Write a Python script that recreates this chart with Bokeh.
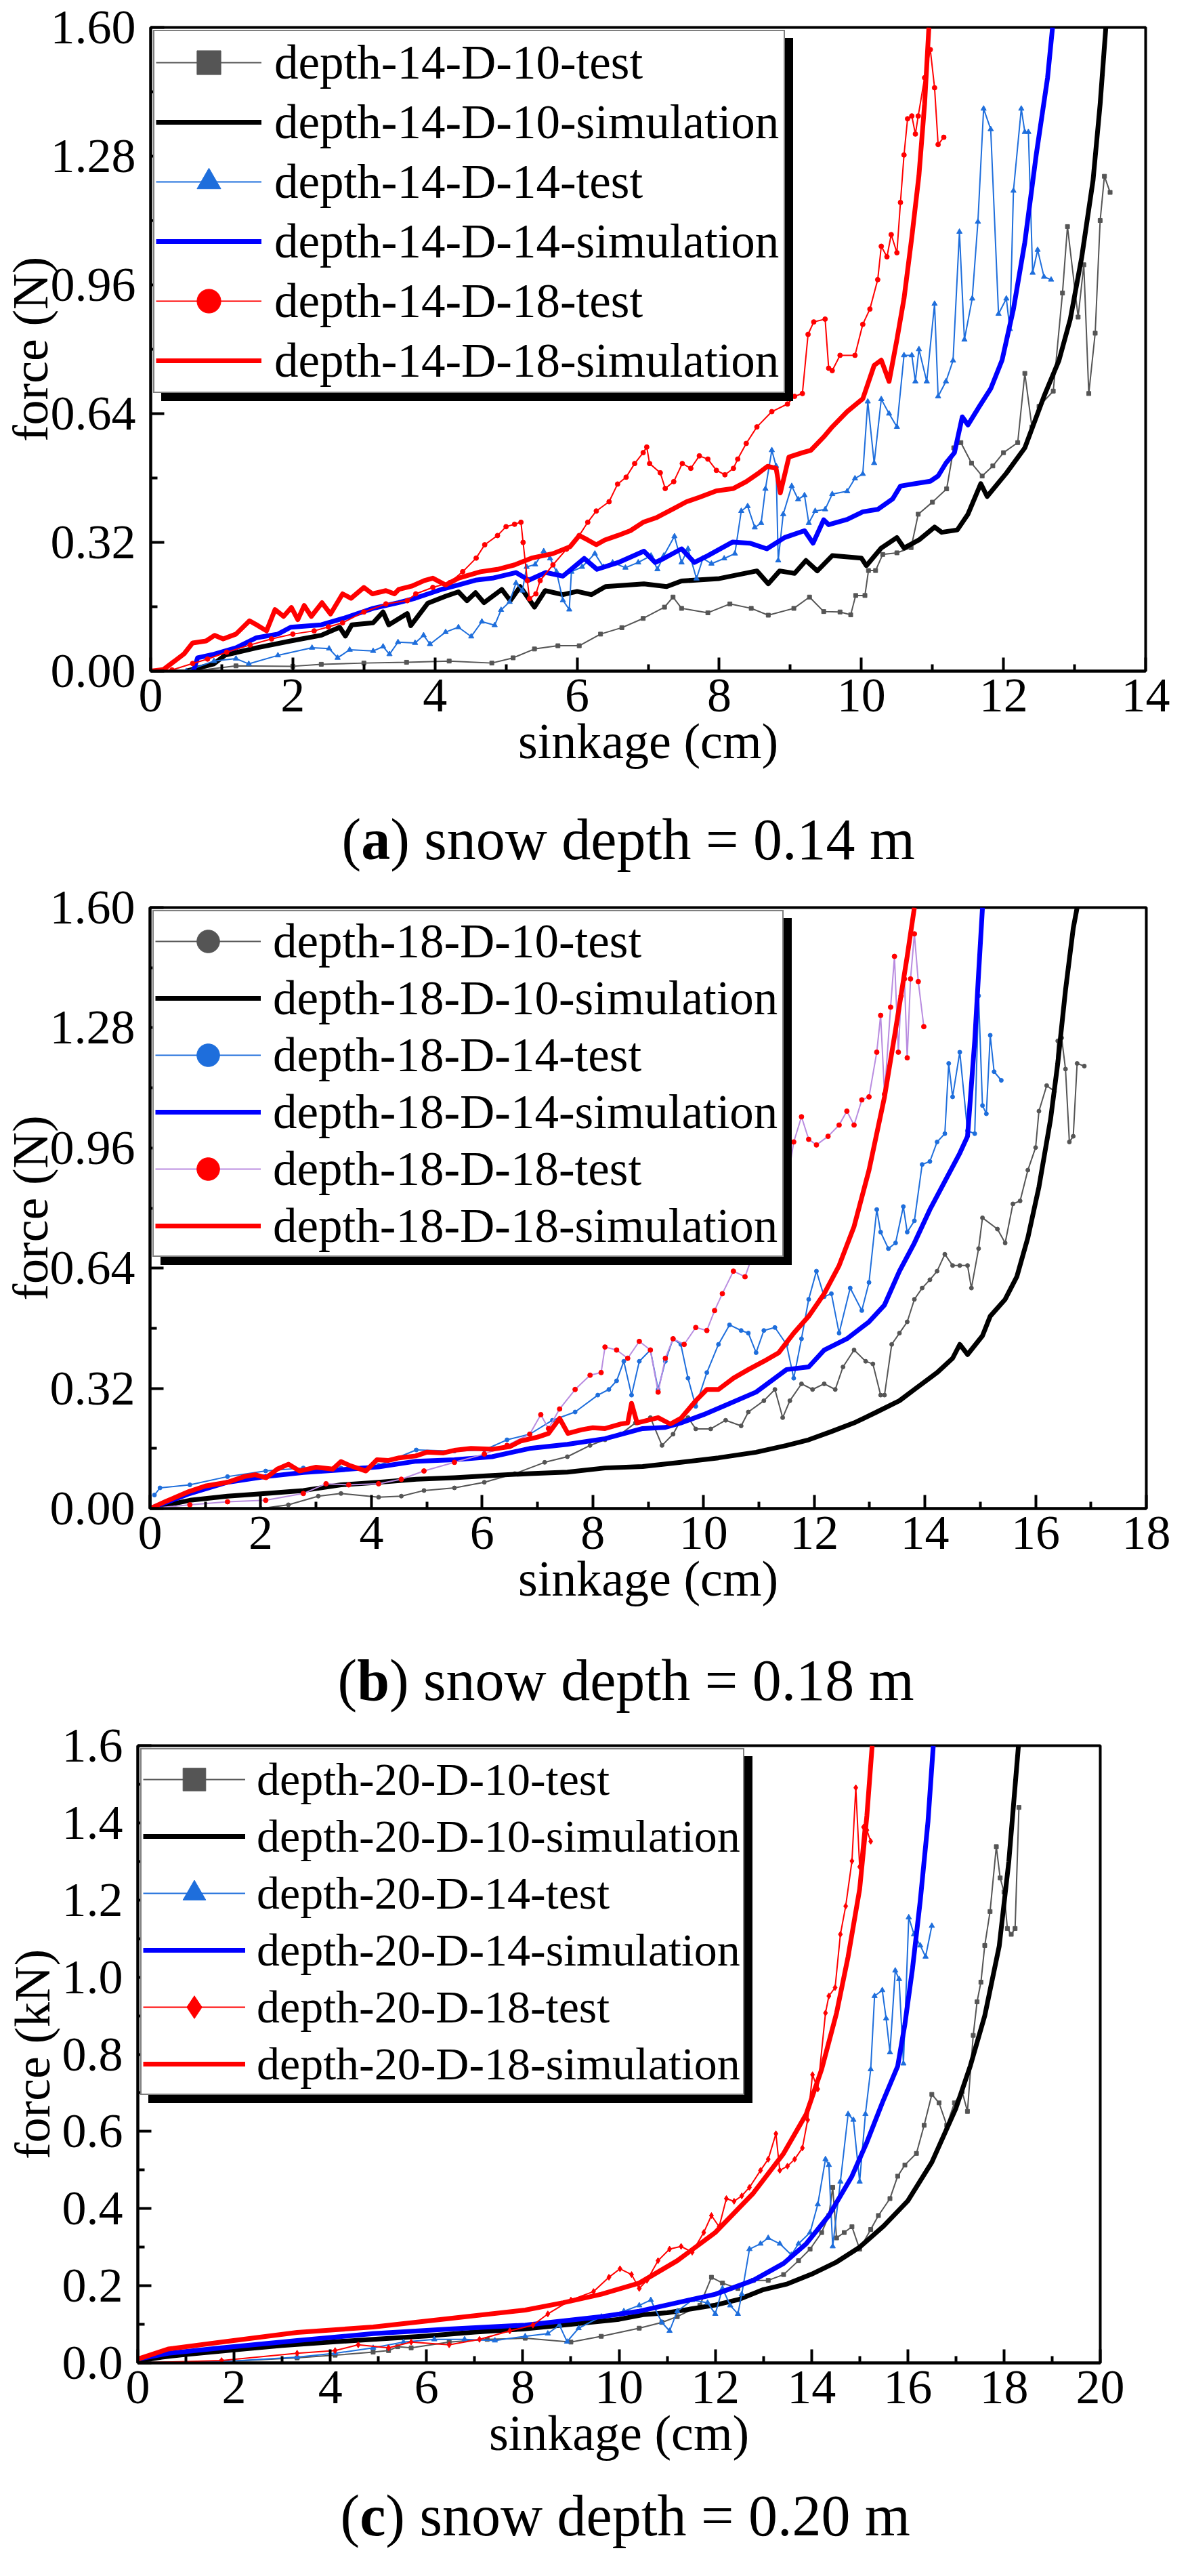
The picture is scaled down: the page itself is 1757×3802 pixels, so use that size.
from bokeh.plotting import figure
from bokeh.models import Range1d, Legend, LegendItem, FixedTicker, PrintfTickFormatter
from bokeh.embed import file_html
from bokeh.resources import INLINE
from bokeh.core.properties import value

FONT = "Liberation Serif"
PAGE_W = 1741

# ---------------- data: (sinkage cm, force) ----------------
# panel (a) snow depth 0.14 m
a_d10_test = [(0.3,0.0),(0.6,0.0),(1.2,0.013),(2.0,0.012),(2.4,0.017),(3.0,0.02),(3.6,0.022),(4.2,0.025),(4.8,0.02),(5.1,0.033),(5.4,0.055),(5.73,0.063),(6.03,0.063),(6.33,0.092),(6.63,0.108),(6.93,0.131),(7.23,0.159),(7.35,0.184),(7.47,0.156),(7.84,0.145),(8.15,0.167),(8.45,0.156),(8.69,0.139),(9.05,0.156),(9.27,0.184),(9.47,0.148),(9.7,0.147),(9.85,0.14),(9.92,0.188),(10.05,0.188),(10.1,0.25),(10.2,0.25),(10.3,0.29),(10.5,0.294),(10.7,0.307),(10.8,0.39),(11.0,0.42),(11.2,0.453),(11.3,0.555),(11.4,0.568),(11.55,0.517),(11.7,0.485),(11.85,0.51),(12.0,0.543),(12.2,0.568),(12.3,0.74),(12.4,0.607),(12.5,0.658),(12.7,0.696),(12.83,0.94),(12.9,1.105),(13.05,0.88),(13.13,1.01),(13.2,0.69),(13.29,0.84),(13.36,1.12),(13.42,1.23),(13.5,1.19)]
a_d10_sim = [(0.5,0.0),(0.89,0.018),(1.05,0.04),(1.49,0.058),(1.97,0.075),(2.4,0.089),(2.66,0.109),(2.74,0.087),(2.83,0.115),(3.13,0.12),(3.27,0.147),(3.35,0.115),(3.61,0.143),(3.66,0.113),(3.9,0.169),(4.15,0.186),(4.33,0.197),(4.45,0.175),(4.57,0.195),(4.69,0.17),(4.94,0.203),(5.06,0.175),(5.2,0.21),(5.4,0.159),(5.55,0.2),(5.8,0.19),(6.0,0.198),(6.2,0.19),(6.4,0.21),(6.94,0.217),(7.26,0.21),(7.47,0.224),(8.0,0.23),(8.53,0.249),(8.69,0.217),(8.85,0.249),(9.06,0.243),(9.22,0.275),(9.38,0.249),(9.59,0.287),(10.0,0.281),(10.07,0.262),(10.28,0.306),(10.5,0.332),(10.6,0.306),(10.81,0.326),(11.03,0.358),(11.13,0.345),(11.35,0.351),(11.5,0.39),(11.68,0.466),(11.77,0.434),(12.04,0.492),(12.3,0.555),(12.57,0.683),(12.78,0.772),(12.94,0.875),(13.1,1.028),(13.26,1.22),(13.36,1.41),(13.44,1.6)]
a_d14_test = [(0.5,0.0),(0.89,0.025),(1.2,0.031),(1.38,0.018),(1.79,0.039),(2.27,0.058),(2.51,0.056),(2.63,0.033),(2.8,0.053),(3.13,0.05),(3.27,0.061),(3.36,0.042),(3.48,0.072),(3.72,0.07),(3.84,0.089),(3.93,0.067),(4.15,0.097),(4.33,0.109),(4.51,0.086),(4.66,0.123),(4.84,0.114),(4.93,0.152),(5.05,0.172),(5.14,0.219),(5.23,0.2),(5.29,0.259),(5.41,0.265),(5.53,0.298),(5.62,0.28),(5.71,0.247),(5.8,0.176),(5.89,0.153),(5.92,0.247),(6.07,0.259),(6.25,0.292),(6.37,0.259),(6.5,0.27),(6.68,0.257),(6.86,0.27),(7.04,0.287),(7.13,0.253),(7.22,0.287),(7.37,0.335),(7.47,0.27),(7.56,0.304),(7.68,0.23),(7.77,0.28),(7.89,0.267),(8.07,0.28),(8.22,0.292),(8.31,0.398),(8.4,0.41),(8.5,0.357),(8.59,0.368),(8.65,0.453),(8.74,0.549),(8.8,0.51),(8.83,0.275),(8.9,0.39),(9.02,0.46),(9.11,0.427),(9.2,0.437),(9.26,0.368),(9.35,0.398),(9.49,0.402),(9.59,0.44),(9.8,0.447),(9.91,0.479),(10.02,0.49),(10.09,0.67),(10.18,0.517),(10.28,0.676),(10.39,0.64),(10.5,0.607),(10.6,0.785),(10.71,0.785),(10.76,0.72),(10.81,0.8),(10.92,0.72),(11.03,0.913),(11.08,0.683),(11.19,0.72),(11.29,0.772),(11.38,1.092),(11.45,0.824),(11.56,0.926),(11.64,1.117),(11.72,1.398),(11.82,1.347),(11.93,0.888),(12.04,0.926),(12.09,0.85),(12.14,1.194),(12.25,1.398),(12.3,1.34),(12.35,1.34),(12.41,0.99),(12.48,1.047),(12.57,0.98),(12.67,0.973)]
a_d14_sim = [(0.6,0.0),(0.66,0.033),(0.89,0.042),(1.2,0.058),(1.49,0.083),(1.79,0.092),(1.97,0.109),(2.4,0.115),(2.71,0.131),(3.13,0.156),(3.48,0.17),(3.72,0.181),(4.09,0.203),(4.33,0.214),(4.57,0.226),(4.81,0.231),(5.14,0.245),(5.32,0.226),(5.56,0.245),(5.8,0.236),(6.1,0.28),(6.28,0.253),(6.58,0.27),(6.94,0.298),(7.1,0.27),(7.22,0.28),(7.47,0.304),(7.65,0.27),(7.84,0.287),(8.19,0.321),(8.43,0.318),(8.67,0.304),(8.92,0.332),(9.2,0.349),(9.32,0.318),(9.47,0.376),(9.54,0.364),(9.8,0.377),(10.02,0.396),(10.23,0.402),(10.44,0.428),(10.55,0.46),(10.76,0.466),(10.97,0.472),(11.08,0.485),(11.19,0.517),(11.31,0.543),(11.42,0.632),(11.5,0.612),(11.66,0.658),(11.82,0.702),(11.98,0.773),(12.14,0.9),(12.3,1.066),(12.46,1.283),(12.62,1.475),(12.69,1.6)]
a_d18_test = [(0.1,0.0),(0.3,0.003),(0.59,0.019),(0.8,0.03),(1.07,0.047),(1.4,0.065),(1.7,0.08),(2.0,0.092),(2.3,0.1),(2.5,0.11),(2.7,0.12),(3.0,0.147),(3.31,0.167),(3.61,0.175),(3.73,0.192),(3.97,0.208),(4.21,0.22),(4.39,0.247),(4.58,0.281),(4.7,0.314),(4.88,0.337),(5.0,0.359),(5.12,0.365),(5.21,0.37),(5.24,0.32),(5.3,0.225),(5.33,0.18),(5.42,0.192),(5.48,0.225),(5.66,0.264),(5.85,0.303),(6.03,0.337),(6.15,0.37),(6.27,0.398),(6.45,0.421),(6.57,0.465),(6.69,0.482),(6.81,0.516),(6.93,0.543),(6.98,0.557),(7.02,0.516),(7.17,0.493),(7.24,0.454),(7.36,0.471),(7.48,0.516),(7.6,0.504),(7.72,0.535),(7.84,0.527),(7.96,0.499),(8.08,0.488),(8.2,0.504),(8.26,0.527),(8.38,0.566),(8.53,0.607),(8.74,0.645),(8.96,0.664),(9.06,0.683),(9.17,0.69),(9.25,0.837),(9.33,0.868),(9.49,0.875),(9.54,0.753),(9.59,0.747),(9.7,0.785),(9.91,0.785),(10.02,0.862),(10.12,0.9),(10.23,0.973),(10.28,1.056),(10.36,1.03),(10.42,1.085),(10.5,1.04),(10.55,1.165),(10.6,1.283),(10.65,1.373),(10.71,1.38),(10.76,1.335),(10.8,1.38),(10.89,1.475),(10.97,1.545),(11.03,1.45),(11.08,1.309),(11.16,1.327)]
a_d18_sim = [(0.0,0.0),(0.18,0.004),(0.47,0.043),(0.59,0.07),(0.78,0.075),(0.9,0.089),(1.02,0.08),(1.2,0.092),(1.39,0.125),(1.51,0.113),(1.63,0.1),(1.75,0.153),(1.87,0.136),(1.98,0.158),(2.07,0.128),(2.16,0.163),(2.26,0.136),(2.41,0.17),(2.53,0.142),(2.7,0.192),(2.82,0.181),(3.0,0.208),(3.12,0.192),(3.31,0.2),(3.43,0.192),(3.49,0.203),(3.67,0.211),(3.85,0.225),(3.97,0.231),(4.15,0.214),(4.33,0.231),(4.64,0.247),(4.88,0.253),(5.12,0.264),(5.36,0.281),(5.66,0.292),(5.9,0.309),(6.03,0.337),(6.15,0.326),(6.27,0.314),(6.39,0.326),(6.57,0.337),(6.75,0.349),(6.93,0.37),(7.11,0.381),(7.36,0.404),(7.54,0.421),(7.72,0.432),(7.96,0.448),(8.2,0.454),(8.38,0.471),(8.56,0.493),(8.68,0.509),(8.8,0.504),(8.86,0.443),(8.98,0.532),(9.17,0.543),(9.29,0.549),(9.47,0.582),(9.59,0.607),(9.8,0.645),(10.02,0.677),(10.18,0.76),(10.28,0.773),(10.39,0.72),(10.5,0.824),(10.6,0.926),(10.71,1.079),(10.81,1.232),(10.89,1.41),(10.95,1.6)]

# panel (b) snow depth 0.18 m
b_d10_test = [(1.0,0.0),(2.0,0.0),(2.5,0.01),(3.04,0.033),(3.45,0.04),(4.13,0.03),(4.54,0.033),(4.95,0.048),(5.5,0.055),(6.04,0.07),(6.59,0.093),(7.13,0.123),(7.54,0.138),(7.95,0.168),(8.22,0.183),(8.5,0.198),(8.77,0.228),(9.04,0.242),(9.25,0.168),(9.45,0.198),(9.59,0.235),(9.72,0.242),(9.86,0.212),(10.13,0.212),(10.4,0.235),(10.68,0.22),(10.81,0.257),(11.09,0.287),(11.29,0.317),(11.43,0.242),(11.56,0.287),(11.77,0.332),(11.97,0.317),(12.18,0.332),(12.38,0.317),(12.52,0.377),(12.72,0.422),(12.93,0.392),(13.06,0.385),(13.2,0.302),(13.27,0.302),(13.4,0.437),(13.54,0.467),(13.68,0.497),(13.81,0.557),(13.95,0.587),(14.09,0.609),(14.22,0.632),(14.36,0.677),(14.5,0.647),(14.63,0.647),(14.77,0.647),(14.84,0.587),(14.97,0.692),(15.04,0.774),(15.31,0.744),(15.45,0.707),(15.59,0.811),(15.72,0.819),(15.86,0.901),(16.0,0.961),(16.06,1.058),(16.2,1.126),(16.34,1.111),(16.4,1.245),(16.47,1.253),(16.54,1.17),(16.61,0.976),(16.68,0.991),(16.75,1.185),(16.88,1.178)]
b_d10_sim = [(0.0,0.0),(0.72,0.022),(1.4,0.033),(2.09,0.04),(2.77,0.048),(3.45,0.063),(4.13,0.07),(4.81,0.078),(5.5,0.082),(6.18,0.088),(6.86,0.093),(7.54,0.097),(8.22,0.108),(8.9,0.112),(9.59,0.123),(10.27,0.135),(10.95,0.15),(11.5,0.168),(11.9,0.183),(12.31,0.205),(12.72,0.228),(13.13,0.257),(13.54,0.287),(13.81,0.317),(14.22,0.362),(14.5,0.4),(14.63,0.437),(14.77,0.41),(15.04,0.46),(15.18,0.512),(15.45,0.557),(15.66,0.617),(15.86,0.721),(16.06,0.856),(16.27,1.036),(16.4,1.185),(16.54,1.38),(16.68,1.545),(16.75,1.6)]
b_d14_test = [(0.08,0.036),(0.18,0.055),(0.72,0.063),(1.4,0.085),(2.09,0.1),(2.77,0.108),(3.45,0.108),(4.13,0.115),(4.81,0.156),(5.5,0.153),(6.04,0.156),(6.45,0.183),(6.86,0.198),(7.27,0.235),(7.68,0.257),(8.09,0.302),(8.29,0.317),(8.43,0.34),(8.56,0.392),(8.7,0.302),(8.84,0.392),(9.04,0.422),(9.18,0.317),(9.31,0.392),(9.45,0.452),(9.59,0.437),(9.72,0.347),(9.86,0.272),(10.06,0.362),(10.27,0.437),(10.47,0.489),(10.68,0.474),(10.81,0.467),(10.95,0.415),(11.09,0.474),(11.29,0.482),(11.5,0.437),(11.63,0.347),(11.77,0.452),(11.9,0.557),(12.04,0.632),(12.18,0.564),(12.31,0.572),(12.45,0.467),(12.65,0.587),(12.86,0.527),(12.99,0.602),(13.13,0.796),(13.2,0.736),(13.34,0.692),(13.47,0.707),(13.61,0.804),(13.68,0.736),(13.81,0.766),(13.95,0.916),(14.09,0.924),(14.22,0.976),(14.36,0.998),(14.43,1.185),(14.5,1.096),(14.63,1.215),(14.77,1.006),(14.9,0.998),(14.97,1.365),(15.04,1.073),(15.11,1.051),(15.18,1.26),(15.25,1.163),(15.38,1.14)]
b_d14_sim = [(0.0,0.0),(0.72,0.04),(1.4,0.07),(2.09,0.085),(2.77,0.096),(3.45,0.103),(4.13,0.111),(4.81,0.126),(5.5,0.13),(6.18,0.138),(6.86,0.16),(7.54,0.171),(8.22,0.186),(8.9,0.213),(9.31,0.216),(9.59,0.228),(10.0,0.25),(10.4,0.275),(10.95,0.31),(11.5,0.37),(11.9,0.377),(12.18,0.422),(12.59,0.452),(12.99,0.497),(13.27,0.542),(13.54,0.632),(13.81,0.707),(14.09,0.796),(14.36,0.871),(14.63,0.946),(14.77,0.991),(14.9,1.245),(14.97,1.425),(15.04,1.6)]
b_d18_test = [(0.0,0.0),(0.72,0.01),(1.4,0.018),(2.09,0.022),(2.77,0.04),(3.18,0.066),(3.59,0.063),(4.13,0.066),(4.54,0.078),(4.95,0.1),(5.5,0.123),(6.04,0.145),(6.45,0.168),(6.86,0.198),(7.06,0.25),(7.2,0.213),(7.4,0.265),(7.68,0.317),(7.95,0.355),(8.15,0.362),(8.22,0.43),(8.43,0.422),(8.63,0.4),(8.84,0.445),(9.04,0.422),(9.18,0.31),(9.31,0.4),(9.45,0.452),(9.65,0.437),(9.86,0.482),(10.06,0.474),(10.2,0.527),(10.34,0.572),(10.54,0.632),(10.75,0.617),(10.95,0.7),(11.2,0.76),(11.5,0.856),(11.63,0.976),(11.77,1.043),(11.9,0.983),(12.04,0.968),(12.25,0.991),(12.45,1.021),(12.59,1.058),(12.72,1.021),(12.86,1.088),(12.99,1.096),(13.13,1.215),(13.2,1.313),(13.27,1.103),(13.38,1.335),(13.45,1.47),(13.52,1.215),(13.57,1.365),(13.63,1.41),(13.68,1.2),(13.74,1.41),(13.81,1.53),(13.88,1.403),(13.98,1.283)]
b_d18_sim = [(0.0,0.0),(0.3,0.02),(0.7,0.045),(1.0,0.06),(1.4,0.07),(1.7,0.085),(1.9,0.09),(2.1,0.082),(2.3,0.105),(2.5,0.118),(2.7,0.1),(3.0,0.11),(3.3,0.105),(3.45,0.125),(3.6,0.115),(3.9,0.1),(4.1,0.13),(4.3,0.128),(4.5,0.135),(4.8,0.14),(5.0,0.15),(5.3,0.148),(5.5,0.155),(5.8,0.16),(6.2,0.158),(6.5,0.165),(6.7,0.18),(7.0,0.19),(7.2,0.2),(7.4,0.24),(7.55,0.2),(7.8,0.21),(8.0,0.215),(8.22,0.213),(8.5,0.225),(8.63,0.228),(8.7,0.28),(8.8,0.228),(9.18,0.242),(9.4,0.225),(9.59,0.24),(9.86,0.287),(10.06,0.317),(10.27,0.317),(10.54,0.347),(10.81,0.37),(11.09,0.392),(11.36,0.415),(11.63,0.467),(11.9,0.512),(12.18,0.572),(12.45,0.647),(12.72,0.751),(12.99,0.901),(13.27,1.096),(13.47,1.275),(13.68,1.47),(13.81,1.6)]

# panel (c) snow depth 0.20 m
c_d10_test = [(0.0,0.0),(1.74,0.003),(3.31,0.013),(4.1,0.02),(4.89,0.028),(5.21,0.032),(5.4,0.042),(5.68,0.039),(6.47,0.054),(7.26,0.061),(8.05,0.064),(9.0,0.054),(9.63,0.069),(10.42,0.09),(10.89,0.105),(11.21,0.12),(11.68,0.149),(11.92,0.222),(12.15,0.207),(12.47,0.193),(12.79,0.214),(13.1,0.214),(13.42,0.229),(13.73,0.265),(13.97,0.295),(14.21,0.338),(14.36,0.382),(14.44,0.455),(14.52,0.324),(14.68,0.338),(14.84,0.353),(15.0,0.295),(15.23,0.346),(15.39,0.382),(15.63,0.426),(15.79,0.484),(15.94,0.513),(16.18,0.543),(16.34,0.616),(16.5,0.696),(16.65,0.674),(16.81,0.616),(16.97,0.674),(17.13,0.703),(17.24,0.652),(17.36,0.849),(17.44,0.936),(17.52,0.987),(17.6,1.082),(17.71,1.17),(17.84,1.338),(17.92,1.257),(18.0,1.221),(18.07,1.126),(18.15,1.111),(18.23,1.126),(18.31,1.44)]
c_d10_sim = [(0.0,0.005),(0.5,0.015),(1.0,0.022),(2.0,0.034),(3.0,0.045),(4.0,0.054),(5.0,0.062),(6.0,0.07),(7.0,0.08),(8.0,0.088),(9.0,0.1),(10.0,0.113),(10.5,0.125),(11.0,0.13),(11.5,0.14),(12.0,0.15),(12.5,0.165),(13.0,0.19),(13.5,0.205),(14.0,0.23),(14.5,0.26),(15.0,0.3),(15.5,0.355),(16.0,0.42),(16.5,0.52),(17.0,0.66),(17.3,0.77),(17.6,0.9),(17.9,1.08),(18.1,1.3),(18.2,1.45),(18.3,1.6)]
c_d14_test = [(0.0,0.0),(1.74,0.003),(3.31,0.015),(4.1,0.025),(4.89,0.039),(5.52,0.054),(6.16,0.061),(6.79,0.061),(7.42,0.058),(8.05,0.069),(8.52,0.076),(8.76,0.098),(8.92,0.055),(9.16,0.09),(9.63,0.12),(10.1,0.134),(10.42,0.149),(10.66,0.163),(10.89,0.105),(11.05,0.083),(11.21,0.134),(11.52,0.163),(11.84,0.156),(12.0,0.127),(12.15,0.193),(12.31,0.149),(12.47,0.127),(12.55,0.178),(12.71,0.295),(12.94,0.309),(13.1,0.324),(13.34,0.309),(13.58,0.28),(13.73,0.309),(13.97,0.338),(14.13,0.411),(14.29,0.528),(14.36,0.513),(14.44,0.302),(14.6,0.47),(14.76,0.645),(14.87,0.63),(15.0,0.47),(15.12,0.645),(15.23,0.761),(15.31,0.951),(15.47,0.966),(15.55,0.893),(15.63,0.805),(15.74,1.017),(15.82,0.995),(15.91,0.776),(16.02,1.155),(16.13,1.111),(16.26,1.082),(16.37,1.053),(16.5,1.133)]
c_d14_sim = [(0.0,0.01),(0.63,0.025),(1.74,0.039),(3.31,0.058),(4.89,0.076),(6.47,0.088),(8.05,0.098),(9.63,0.12),(10.42,0.134),(11.21,0.156),(12.0,0.178),(12.79,0.214),(13.42,0.258),(13.89,0.309),(14.36,0.382),(14.84,0.484),(15.15,0.572),(15.47,0.674),(15.79,0.769),(15.94,0.878),(16.1,1.024),(16.26,1.199),(16.42,1.403),(16.53,1.6)]
c_d18_test = [(0.0,0.0),(1.74,0.006),(3.31,0.025),(4.1,0.032),(4.58,0.047),(5.21,0.039),(5.68,0.054),(6.47,0.047),(7.1,0.061),(7.73,0.083),(8.21,0.098),(8.52,0.127),(9.0,0.163),(9.47,0.185),(9.79,0.222),(10.02,0.244),(10.26,0.229),(10.42,0.193),(10.58,0.214),(10.81,0.265),(11.05,0.295),(11.29,0.302),(11.52,0.287),(11.76,0.338),(11.92,0.382),(12.08,0.353),(12.23,0.426),(12.39,0.419),(12.55,0.433),(12.71,0.455),(12.94,0.499),(13.1,0.528),(13.26,0.594),(13.34,0.499),(13.5,0.51),(13.65,0.528),(13.81,0.557),(13.92,0.63),(14.02,0.747),(14.13,0.71),(14.29,0.907),(14.36,0.951),(14.49,0.973),(14.6,1.111),(14.71,1.184),(14.84,1.301),(14.92,1.491),(15.0,1.286),(15.08,1.389),(15.15,1.381),(15.23,1.352)]
c_d18_sim = [(0.0,0.01),(0.63,0.036),(1.74,0.054),(3.31,0.079),(4.89,0.093),(6.47,0.115),(8.05,0.137),(8.84,0.156),(9.63,0.178),(10.42,0.207),(11.21,0.265),(12.0,0.338),(12.79,0.44),(13.42,0.543),(13.89,0.645),(14.21,0.761),(14.52,0.907),(14.76,1.053),(15.0,1.228),(15.15,1.418),(15.26,1.6)]

# ticks
a_xticks = [0, 2, 4, 6, 8, 10, 12, 14]
b_xticks = [0, 2, 4, 6, 8, 10, 12, 14, 16, 18]
c_xticks = [0, 2, 4, 6, 8, 10, 12, 14, 16, 18, 20]
ab_yticks = [0, 0.32, 0.64, 0.96, 1.28, 1.6]
ab_yminor = [0.16, 0.48, 0.8, 1.12, 1.44]
c_yticks = [0, 0.2, 0.4, 0.6, 0.8, 1.0, 1.2, 1.4, 1.6]
c_yminor = [0.1, 0.3, 0.5, 0.7, 0.9, 1.1, 1.3, 1.5]

GRAY = "#555555"
BLUE_T = "#1e6edc"
BLUE_S = "#0000ff"
RED = "#ff0000"
BLACK = "#000000"
PURPLE = "#b98ce0"


def xy(pairs):
    return [q[0] for q in pairs], [q[1] for q in pairs]


def panel(height, borders, xmax, xticks, yticks, yminor, yfmt, ylabel, ylab_standoff,
          series, leg_font, leg_row, leg_gw, leg_standoff, leg_lw):
    left, right, top, bottom = borders
    p = figure(width=PAGE_W, height=height, output_backend="svg", toolbar_location=None,
               x_range=Range1d(0, xmax), y_range=Range1d(0, 1.6),
               min_border_left=left, min_border_right=right,
               min_border_top=top, min_border_bottom=bottom)
    p.xgrid.visible = False
    p.ygrid.visible = False
    p.outline_line_color = "black"
    p.outline_line_width = 4
    p.outline_line_alpha = 1
    p.background_fill_color = "white"
    p.border_fill_color = "white"

    items = []
    for label, pairs, kind, color, marker, msize, mcolor in series:
        xs, ys = xy(pairs)
        if kind == "sim":
            r = p.line(xs, ys, line_color=color, line_width=7, line_join="round")
            items.append((label, [r]))
        else:
            r1 = p.line(xs, ys, line_color=color, line_width=2)
            r2 = p.scatter(xs, ys, marker=marker, size=msize, fill_color=mcolor, line_color=mcolor)
            items.append((label, [r1, r2]))

    common = dict(location="top_left", padding=2, spacing=0,
                  glyph_width=leg_gw, glyph_height=leg_row, label_height=leg_row,
                  label_width=leg_lw, label_standoff=leg_standoff,
                  label_text_font=FONT, label_text_font_size=leg_font,
                  label_text_color="black", background_fill_alpha=1,
                  border_line_color="black", border_line_width=2)
    # drop shadow behind the legend box (blank labels, same box size)
    shadow = Legend(items=[LegendItem(label=" ", renderers=rs) for _, rs in items],
                    margin=16, background_fill_color="black", **common)
    front = Legend(items=[LegendItem(label=l, renderers=rs) for l, rs in items],
                   margin=4, background_fill_color="white", **common)
    p.add_layout(shadow)
    p.add_layout(front)

    xa = p.xaxis[0]
    ya = p.yaxis[0]
    xa.ticker = FixedTicker(ticks=xticks, minor_ticks=[t + 1 for t in xticks[:-1]])
    ya.ticker = FixedTicker(ticks=yticks, minor_ticks=yminor)
    ya.formatter = PrintfTickFormatter(format=yfmt)
    xa.axis_label = "sinkage (cm)"
    ya.axis_label = ylabel
    for ax in (xa, ya):
        ax.axis_line_width = 4
        ax.axis_line_color = "black"
        ax.major_tick_line_width = 4
        ax.minor_tick_line_width = 4
        ax.major_tick_line_color = "black"
        ax.minor_tick_line_color = "black"
        ax.major_tick_in = 20
        ax.major_tick_out = 0
        ax.minor_tick_in = 10
        ax.minor_tick_out = 0
        ax.major_label_text_font = FONT
        ax.major_label_text_font_size = "72px"
        ax.major_label_text_color = "black"
        ax.axis_label_text_font = FONT
        ax.axis_label_text_font_size = "74px"
        ax.axis_label_text_font_style = "normal"
        ax.axis_label_text_color = "black"
    xa.major_label_standoff = 12
    xa.axis_label_standoff = 0
    ya.major_label_standoff = 22
    ya.axis_label_standoff = ylab_standoff
    return p


def caption(h, start, base, letter, letter_em, rest, fs=86):
    c = figure(width=PAGE_W, height=h, output_backend="svg", toolbar_location=None,
               title=None, x_range=Range1d(0, PAGE_W), y_range=Range1d(0, h),
               x_axis_type=None, y_axis_type=None,
               min_border=0, min_border_left=0, min_border_right=0,
               min_border_top=0, min_border_bottom=0)
    c.outline_line_color = None
    c.background_fill_color = "white"
    c.border_fill_color = "white"
    common = dict(text_font=value(FONT), text_font_size=f"{fs}px",
                  text_baseline="alphabetic", text_align="left", text_color="black")
    c.text(x=[start], y=[base], text=["("], **common)
    c.text(x=[start + 0.333 * fs], y=[base], text=[letter], text_font_style="bold", **common)
    c.text(x=[start + (0.333 + letter_em) * fs], y=[base], text=[rest], **common)
    return c


ser_a = [
    ("depth-14-D-10-test", a_d10_test, "test", GRAY, "square", 6, GRAY),
    ("depth-14-D-10-simulation", a_d10_sim, "sim", BLACK, None, 0, None),
    ("depth-14-D-14-test", a_d14_test, "test", BLUE_T, "triangle", 8, BLUE_T),
    ("depth-14-D-14-simulation", a_d14_sim, "sim", BLUE_S, None, 0, None),
    ("depth-14-D-18-test", a_d18_test, "test", RED, "circle", 7, RED),
    ("depth-14-D-18-simulation", a_d18_sim, "sim", RED, None, 0, None),
]
ser_b = [
    ("depth-18-D-10-test", b_d10_test, "test", GRAY, "circle", 6, GRAY),
    ("depth-18-D-10-simulation", b_d10_sim, "sim", BLACK, None, 0, None),
    ("depth-18-D-14-test", b_d14_test, "test", BLUE_T, "circle", 6, BLUE_T),
    ("depth-18-D-14-simulation", b_d14_sim, "sim", BLUE_S, None, 0, None),
    ("depth-18-D-18-test", b_d18_test, "test", PURPLE, "circle", 7, RED),
    ("depth-18-D-18-simulation", b_d18_sim, "sim", RED, None, 0, None),
]
ser_c = [
    ("depth-20-D-10-test", c_d10_test, "test", GRAY, "square", 6, GRAY),
    ("depth-20-D-10-simulation", c_d10_sim, "sim", BLACK, None, 0, None),
    ("depth-20-D-14-test", c_d14_test, "test", BLUE_T, "triangle", 8, BLUE_T),
    ("depth-20-D-14-simulation", c_d14_sim, "sim", BLUE_S, None, 0, None),
    ("depth-20-D-18-test", c_d18_test, "test", RED, "diamond", 9, RED),
    ("depth-20-D-18-simulation", c_d18_sim, "sim", RED, None, 0, None),
]

fa = panel(1167, (214, 50, 40, 177), 14, a_xticks, ab_yticks, ab_yminor, "%.2f", "force (N)", -14,
           ser_a, "71px", 88, 156, 19, 750)
ca = caption(121, 504, 50, "a", 0.5, ") snow depth = 0.14 m")
fb = panel(1114, (213, 49, 51, 176), 18, b_xticks, ab_yticks, ab_yminor, "%.2f", "force (N)", -15,
           ser_b, "71px", 84, 156, 18, 750)
cb = caption(127, 498, 50, "b", 0.556, ") snow depth = 0.18 m")
fc = panel(1131, (203, 117, 47, 173), 20, c_xticks, c_yticks, c_yminor, "%.1f", "force (kN)", 0,
           ser_c, "68px", 84, 151, 17, 716)
cc = caption(102, 502, 50, "c", 0.444, ") snow depth = 0.20 m")

# separate roots so that the frames of the panels are not aligned to each other
open("out.html", "w").write(file_html([fa, ca, fb, cb, fc, cc], INLINE, "force vs sinkage"))
